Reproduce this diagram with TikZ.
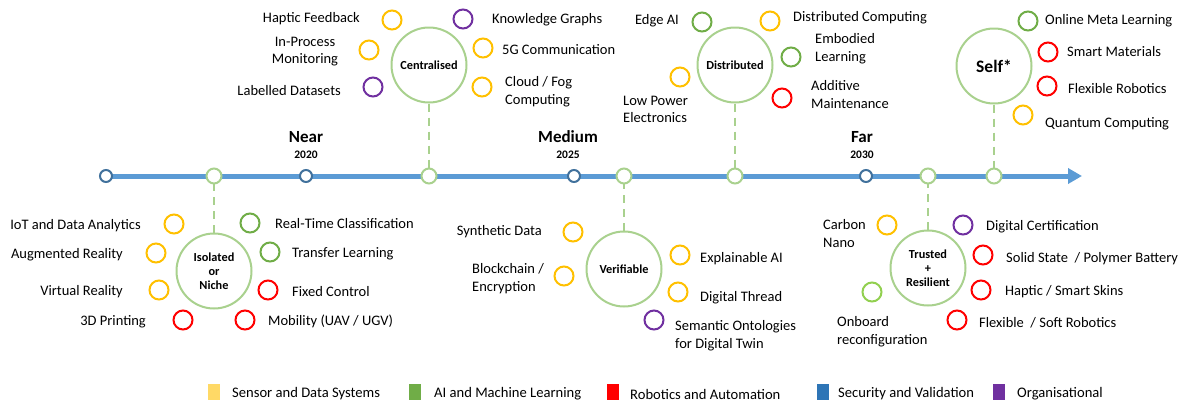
\documentclass[tikz,border=0pt]{standalone}
\usepackage{fontspec}
\setmainfont{Carlito}
\usetikzlibrary{arrows.meta,backgrounds}
\definecolor{cy}{HTML}{FFC000}
\definecolor{cg}{HTML}{70AD47}
\definecolor{clg}{HTML}{92D050}
\definecolor{cr}{HTML}{FF0000}
\definecolor{cp}{HTML}{7030A0}
\definecolor{cgreen}{HTML}{A9D18E}
\definecolor{cblue}{HTML}{5B9BD5}
\definecolor{cdblue}{HTML}{41719C}
\definecolor{lgy}{HTML}{FFD966}
\definecolor{lbl}{HTML}{2E75B6}
\tikzset{
  bigc/.style={circle,draw=cgreen,line width=2pt,fill=white,minimum size=75pt,inner sep=0pt,align=center,font=\fontsize{12.3}{14}\selectfont\bfseries},
  sc/.style={circle,draw=#1,line width=2pt,minimum size=19pt,inner sep=0pt},
  lab/.style={font=\fontsize{14.5}{17.5}\selectfont,inner sep=0pt,yshift=-1.5pt},
  labl/.style={lab,anchor=west,align=left},
  labr/.style={lab,anchor=east,align=right},
  tb/.style={circle,draw=cdblue,line width=2pt,fill=white,minimum size=12pt,inner sep=0pt},
  tg/.style={circle,draw=cgreen,line width=2pt,fill=white,minimum size=15pt,inner sep=0pt},
  dashln/.style={draw=cgreen,line width=2pt,dash pattern=on 8pt off 6pt},
  era/.style={font=\fontsize{17}{19}\selectfont\bfseries,inner sep=0pt},
  year/.style={font=\fontsize{11.5}{13}\selectfont\bfseries,inner sep=0pt},
  leg/.style={minimum width=12pt,minimum height=16pt,inner sep=0pt},
  legt/.style={font=\fontsize{14.6}{16}\selectfont,anchor=west,inner sep=0pt,yshift=-2pt},
}
\begin{document}
\begin{tikzpicture}[x=1pt,y=-1pt]
\useasboundingbox (0,0) rectangle (1184,402);
% timeline
\node[tb] (t0) at (106,176) {};
\node[tb] (tnear) at (306,176) {};
\node[tb] (tmed) at (574,176) {};
\node[tb] (tfar) at (866,176) {};
\node[tg] (g1) at (214,176) {};
\node[tg] (g2) at (429,176) {};
\node[tg] (g3) at (624,176) {};
\node[tg] (g4) at (735,176) {};
\node[tg] (g5) at (928,176) {};
\node[tg] (g6) at (994,176) {};
\coordinate (tend) at (1082,176);
\begin{scope}[on background layer]
\draw[cblue,line width=5pt,-{Triangle[length=14pt,width=15pt]}] (t0.center) -- (tend);
\end{scope}
\node[era] (near) at (306,137) {Near};
\node[year] (ynear) at (306,155) {2020};
\node[era] (medium) at (568,137) {Medium};
\node[year] (ymed) at (568,155) {2025};
\node[era] (far) at (862,137) {Far};
\node[year] (yfar) at (862,155) {2030};

% big circles
\node[bigc] (iso) at (214,271) {Isolated\\or\\Niche};
\node[bigc] (cen) at (429,65) {Centralised};
\node[bigc] (ver) at (624,269) {Verifiable};
\node[bigc] (dis) at (735,65) {Distributed};
\node[bigc] (tru) at (928,268) {Trusted\\+\\Resilient};
\node[bigc,font=\fontsize{17.5}{19}\selectfont\bfseries] (self) at (994,66) {Self*};
\begin{scope}[on background layer]
\draw[dashln] (iso) -- (g1.center);
\draw[dashln] (cen) -- (g2.center);
\draw[dashln] (ver) -- (g3.center);
\draw[dashln] (dis) -- (g4.center);
\draw[dashln] (tru) -- (g5.center);
\draw[dashln] (self) -- (g6.center);
\end{scope}

% Isolated or Niche
\node[sc=cy] (c1) at (174,224) {};
\node[labr] (l1) at (141,224) {IoT and Data Analytics};
\node[sc=cy] (c2) at (156,253) {};
\node[labr] (l2) at (123,253) {Augmented Reality};
\node[sc=cy] (c3) at (159,290) {};
\node[labr] (l3) at (123,290) {Virtual Reality};
\node[sc=cr] (c4) at (183,320) {};
\node[labr] (l4) at (146,320) {3D Printing};
\node[sc=cg] (c5) at (250,223) {};
\node[labl] (l5) at (275,222) {Real-Time Classification};
\node[sc=cg] (c6) at (270,252) {};
\node[labl] (l6) at (292,252) {Transfer Learning};
\node[sc=cr] (c7) at (268,290) {};
\node[labl] (l7) at (292,290) {Fixed Control};
\node[sc=cr] (c8) at (245,320) {};
\node[labl] (l8) at (268,320) {Mobility (UAV / UGV)};

% Centralised
\node[sc=cy] (c9) at (392,20) {};
\node[labr] (l9) at (360,17) {Haptic Feedback};
\node[sc=cp] (c10) at (463,19) {};
\node[labl] (l10) at (492,18) {Knowledge Graphs};
\node[sc=cy] (c11) at (369,50) {};
\node[lab,align=center] (l11) at (305,50) {In-Process\\Monitoring};
\node[sc=cy] (c12) at (483,48) {};
\node[labl] (l12) at (502,48) {5G Communication};
\node[sc=cp] (c13) at (373,87) {};
\node[labr] (l13) at (341,89) {Labelled Datasets};
\node[sc=cy] (c14) at (482,87) {};
\node[labl] (l14) at (505,90) {Cloud / Fog\\Computing};

% Verifiable
\node[sc=cy] (c15) at (573,232) {};
\node[labr] (l15) at (542,230) {Synthetic Data};
\node[sc=cy] (c16) at (564,276) {};
\node[labl] (l16) at (472,277) {Blockchain /\\Encryption};
\node[sc=cy] (c17) at (680,255) {};
\node[labl] (l17) at (700,257) {Explainable AI};
\node[sc=cy] (c18) at (678,292) {};
\node[labl] (l18) at (700,296) {Digital Thread};
\node[sc=cp] (c19) at (654,320) {};
\node[labl] (l19) at (675,334) {Semantic Ontologies\\for Digital Twin};

% Distributed
\node[sc=cg] (c20) at (702,22) {};
\node[labr] (l20) at (679,19) {Edge AI};
\node[sc=cy] (c21) at (770,21) {};
\node[labl] (l21) at (793,16) {Distributed Computing};
\node[sc=cg] (c22) at (791,57) {};
\node[labl] (l22) at (815,47) {Embodied\\Learning};
\node[sc=cr] (c23) at (782,98) {};
\node[labl] (l23) at (811,93) {Additive\\Maintenance};
\node[sc=cy] (c24) at (680,77) {};
\node[labl] (l24) at (623,108) {Low Power\\Electronics};

% Trusted + Resilient
\node[sc=cy] (c25) at (887,225) {};
\node[labl] (l25) at (823,232) {Carbon\\Nano};
\node[sc=cp] (c26) at (963,225) {};
\node[labl] (l26) at (986,225) {Digital Certification};
\node[sc=cr] (c27) at (983,255) {};
\node[labl] (l27) at (1006,257) {Solid State~ / Polymer Battery};
\node[sc=cr] (c28) at (981,290) {};
\node[labl] (l28) at (1005,290) {Haptic / Smart Skins};
\node[sc=cr] (c29) at (957,320) {};
\node[labl] (l29) at (979,321) {Flexible~ / Soft Robotics};
\node[sc=clg] (c30) at (872,292) {};
\node[labl] (l30) at (837,330) {Onboard\\reconfiguration};

% Self*
\node[sc=cg] (c31) at (1028,21) {};
\node[labl] (l31) at (1045,19) {Online Meta Learning};
\node[sc=cr] (c32) at (1048,52) {};
\node[labl] (l32) at (1067,50) {Smart Materials};
\node[sc=cr] (c33) at (1047,86) {};
\node[labl] (l33) at (1068,87) {Flexible Robotics};
\node[sc=cy] (c34) at (1023,115) {};
\node[labl] (l34) at (1045,122) {Quantum Computing};

% legend
\node[leg,fill=lgy] (k1) at (214,392) {};
\node[legt] (kt1) at (232,392) {Sensor and Data Systems};
\node[leg,fill=cg] (k2) at (415,392) {};
\node[legt] (kt2) at (434,392) {AI and Machine Learning};
\node[leg,fill=cr] (k3) at (613,392) {};
\node[legt] (kt3) at (630,392) {Robotics and Automation};
\node[leg,fill=lbl] (k4) at (823,392) {};
\node[legt] (kt4) at (838,392) {Security and Validation};
\node[leg,fill=cp] (k5) at (999,392) {};
\node[legt] (kt5) at (1017,392) {Organisational};
\end{tikzpicture}
\end{document}
